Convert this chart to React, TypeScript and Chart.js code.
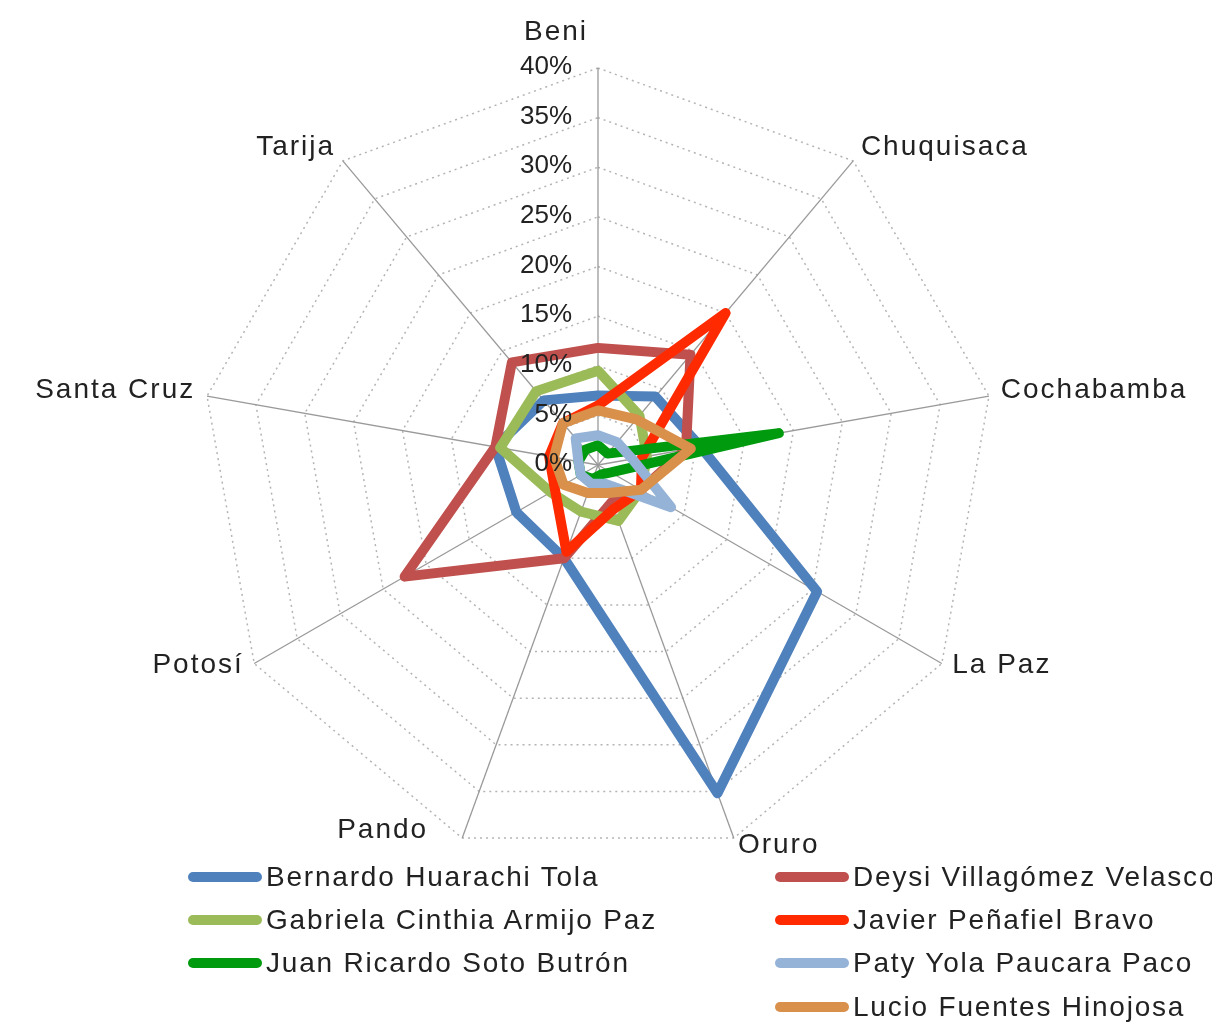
import React, { useEffect, useRef } from "react";
import { Chart, registerables } from "chart.js";

Chart.register(...registerables);

const categories = ["Beni", "Chuquisaca", "Cochabamba", "La Paz", "Oruro", "Pando", "Potosí", "Santa Cruz", "Tarija"];
const tickValues = [0, 5, 10, 15, 20, 25, 30, 35, 40];
const tickLabels = ["0%", "5%", "10%", "15%", "20%", "25%", "30%", "35%", "40%"];

const seriesNames = [
  "Bernardo Huarachi Tola",
  "Deysi Villagómez Velasco",
  "Gabriela Cinthia Armijo Paz",
  "Javier Peñafiel Bravo",
  "Juan Ricardo Soto Butrón",
  "Paty Yola Paucara Paco",
  "Lucio Fuentes Hinojosa",
];
const bernardo = [7, 9, 10.5, 25.5, 35.2, 10, 9.5, 10.5, 8.5];
const deysi = [11.8, 14.5, 9, 5, 4, 10, 22.5, 10.5, 13.5];
const gabriela = [9.5, 6.5, 5, 5, 6, 5, 5.5, 10, 9.7];
const javier = [6, 20, 4.5, 5, 4.7, 9.3, 5, 5, 5.5];
const juan = [2, 1.5, 18.5, 1.5, 1, 1.5, 2, 2, 2];
const paty = [3, 3, 3.5, 8.5, 2, 2, 2, 2, 3.5];
const lucio = [5.5, 6, 9.5, 5, 3, 3, 4, 4.5, 5.5];
const seriesValues = [bernardo, deysi, gabriela, javier, juan, paty, lucio];
const seriesColors = ["#4F81BD", "#C0504D", "#9BBB59", "#FF2A00", "#009A0E", "#95B3D7", "#D9904A"];

// legend placement: [column, row]
const legendSlots = [
  [0, 0],
  [1, 0],
  [0, 1],
  [1, 1],
  [0, 2],
  [1, 2],
  [1, 3],
];

const FONT = "'Liberation Sans', Arial, Helvetica, sans-serif";

const labelPlugin = {
  id: "customLabels",
  afterDraw(chart: any) {
    const scale = chart.scales.r;
    const ctx = chart.ctx;
    ctx.save();
    // tick labels
    ctx.font = `26px ${FONT}`;
    ctx.fillStyle = "#222";
    ctx.textAlign = "right";
    ctx.textBaseline = "middle";
    tickValues.forEach((v, i) => {
      const d = scale.getDistanceFromCenterForValue(v);
      ctx.fillText(tickLabels[i], scale.xCenter - 26, scale.yCenter - d - 1);
    });
    // point labels
    ctx.font = `28px ${FONT}`;
    (ctx as any).letterSpacing = "2px";
    categories.forEach((name, i) => {
      const p = scale.getPointPosition(i, scale.drawingArea + 12);
      const dx = p.x - scale.xCenter;
      let x = p.x;
      let y = p.y - 4;
      if (Math.abs(dx) < 5) {
        ctx.textAlign = "right";
        ctx.textBaseline = "alphabetic";
        x = scale.xCenter - 10;
        y = scale.yCenter - scale.drawingArea - 28;
      } else {
        ctx.textAlign = dx > 0 ? "left" : "right";
        ctx.textBaseline = "middle";
        if (name === "Pando") {
          x -= 30;
          y -= 15;
        }
      }
      ctx.fillText(name, x, y);
    });
    ctx.restore();
  },
};

export default function App() {
  const canvasRef = useRef<HTMLCanvasElement>(null);

  useEffect(() => {
    const canvas = canvasRef.current;
    if (!canvas) return;
    const chart = new Chart(canvas, {
      type: "radar",
      data: {
        labels: categories,
        datasets: seriesNames.map((name, i) => ({
          label: name,
          data: seriesValues[i],
          borderColor: seriesColors[i],
          backgroundColor: seriesColors[i],
          borderWidth: 10,
          borderJoinStyle: "round" as const,
          borderCapStyle: "round" as const,
          pointRadius: 0,
          pointHoverRadius: 0,
          fill: false,
          tension: 0,
          order: seriesNames.length - i,
        })),
      },
      options: {
        responsive: false,
        animation: false,
        layout: { padding: { left: 193, right: 217, top: 60, bottom: 161 } },
        plugins: {
          legend: { display: false },
          tooltip: { enabled: false },
          title: { display: false },
        },
        scales: {
          r: {
            min: 0,
            max: 40,
            ticks: { stepSize: 5, display: false },
            pointLabels: { display: false },
            grid: { color: "#b4b4b4", lineWidth: 1.5, circular: false },
            border: { dash: [2, 4] },
            angleLines: { color: "#9a9a9a", lineWidth: 1.3 },
          },
        },
      },
      plugins: [labelPlugin],
    });
    return () => chart.destroy();
  }, []);

  const rowCenters = [869, 912, 955, 999];
  const colX = [180, 767];

  return (
    <div style={{ position: "relative", width: 1204, height: 1015, background: "#fff" }}>
      <canvas ref={canvasRef} width={1204} height={1015} style={{ position: "absolute", left: 0, top: 0, width: 1204, height: 1015 }} />
      {seriesNames.map((name, i) => {
        const [c, r] = legendSlots[i];
        return (
          <div
            key={name}
            style={{
              position: "absolute",
              left: colX[c],
              top: rowCenters[r] - 20,
              height: 40,
              display: "flex",
              alignItems: "center",
              whiteSpace: "nowrap",
            }}
          >
            <span style={{ display: "inline-block", width: 74, height: 10, borderRadius: 5, background: seriesColors[i] }} />
            <span style={{ font: `28px ${FONT}`, letterSpacing: "1.8px", color: "#222", marginLeft: 4 }}>{name}</span>
          </div>
        );
      })}
    </div>
  );
}
